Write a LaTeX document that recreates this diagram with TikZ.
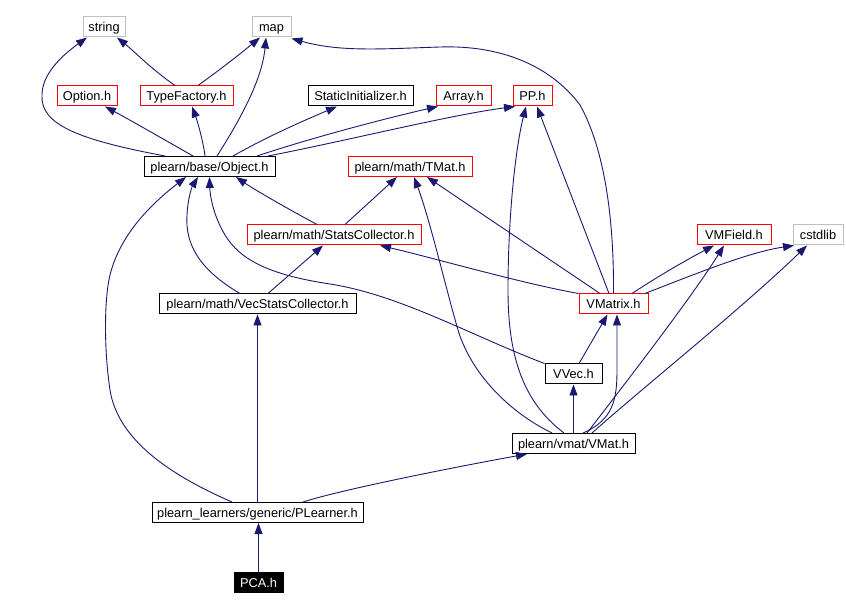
\documentclass[tikz,border=0pt]{standalone}
\usepackage{fontspec}
\setmainfont{Liberation Sans}
\usetikzlibrary{arrows.meta}
\definecolor{edgeblue}{HTML}{191970}
\definecolor{boxgray}{HTML}{BFBFBF}
\tikzset{
  box/.style={draw, line width=1pt, inner sep=0pt, minimum height=20pt, text height=11pt, text depth=1pt, font=\fontsize{12.8}{14}\selectfont, text=black},
  redbox/.style={box, draw=red},
  blackbox/.style={box, draw=black},
  graybox/.style={box, draw=boxgray},
  focusbox/.style={box, draw=black, fill=black, text=white},
  edge/.style={draw=edgeblue, line width=0.9pt, -{Triangle[length=11pt,width=8pt]}, fill=none},
}
\begin{document}
\begin{tikzpicture}[x=1pt,y=-1pt]
\useasboundingbox[fill=white] (0,0) rectangle (846,609);
% nodes
\node[graybox, minimum width=42pt] (string) at (104,27) {string};
\node[graybox, minimum width=39pt] (map) at (271.5,27) {map};
\node[redbox, minimum width=60pt] (option) at (87,96) {Option.h};
\node[redbox, minimum width=93pt] (tf) at (186.5,96) {TypeFactory.h};
\node[blackbox, minimum width=105pt] (si) at (360.5,96) {StaticInitializer.h};
\node[redbox, minimum width=55pt] (array) at (463.5,96) {Array.h};
\node[redbox, minimum width=39pt] (pp) at (532.5,96) {PP.h};
\node[blackbox, minimum width=131pt] (obj) at (209.5,166.5) {plearn/base/Object.h};
\node[redbox, minimum width=124pt] (tmat) at (410,166.5) {plearn/math/TMat.h};
\node[redbox, minimum width=174pt] (stats) at (334,235) {plearn/math/StatsCollector.h};
\node[blackbox, minimum width=197pt] (vecstats) at (257.5,304) {plearn/math/VecStatsCollector.h};
\node[redbox, minimum width=74pt] (vmfield) at (734,235) {VMField.h};
\node[graybox, minimum width=50pt] (cstdlib) at (818,235) {cstdlib};
\node[redbox, minimum width=69pt] (vmatrix) at (613.5,304) {VMatrix.h};
\node[blackbox, minimum width=57pt] (vvec) at (573.5,374) {VVec.h};
\node[blackbox, minimum width=123pt] (vmat) at (573.5,443.5) {plearn/vmat/VMat.h};
\node[blackbox, minimum width=211pt] (plearner) at (257.5,512.5) {plearn\_learners/generic/PLearner.h};
\node[focusbox, minimum width=49pt] (pca) at (258.5,582.5) {PCA.h};
% edges
\draw[edge] ([xshift=-44.5pt]obj.north) .. controls (80,140) and (40,125) .. (42,95) .. controls (42,75) and (60,57) .. ([xshift=-17pt]string.south);
\draw[edge] ([xshift=-11.5pt]tf.north) .. controls (150,68) and (135,52) .. ([xshift=13pt]string.south);
\draw[edge] ([xshift=11.5pt]tf.north) .. controls (225,66) and (245,50) .. ([xshift=-11.5pt]map.south);
\draw[edge] ([xshift=7.5pt]obj.north) .. controls (240,120) and (262,80) .. ([xshift=-5.5pt]map.south);
\draw[edge] ([xshift=-16.5pt]obj.north) .. controls (165,140) and (130,120) .. ([xshift=18pt]option.south);
\draw[edge] ([xshift=-4.5pt]obj.north) .. controls (203,140) and (197,120) .. ([xshift=5.5pt]tf.south);
\draw[edge] ([xshift=23.5pt]obj.north) .. controls (270,135) and (310,118) .. ([xshift=-23.5pt]si.south);
\draw[edge] ([xshift=47.5pt]obj.north) .. controls (320,135) and (400,115) .. ([xshift=-25.5pt]array.south);
\draw[edge] ([xshift=58.5pt]obj.north) .. controls (350,140) and (450,115) .. ([xshift=-17.5pt]pp.south);
\draw[edge] (vmatrix.north) .. controls (614,220) and (605,150) .. (580,105) .. controls (550,65) and (500,45) .. (440,47) .. controls (380,49) and (340,52) .. ([yshift=-1pt]map.south east);
\draw[edge] ([xshift=-17pt]stats.north) .. controls (290,210) and (255,190) .. ([xshift=26.5pt]obj.south);
\draw[edge] ([xshift=11pt]stats.north) -- ([xshift=-13pt]tmat.south);
\draw[edge] ([xshift=-17.5pt]vecstats.north) .. controls (200,270) and (185,245) .. (187,215) .. controls (188,195) and (193,185) .. ([xshift=-11.5pt]obj.south);
\draw[edge] ([xshift=10.5pt]vecstats.north) -- ([xshift=-11pt]stats.south);
\draw[edge] (vvec.north west) .. controls (470,335) and (400,295) .. (330,284) .. controls (270,275) and (240,260) .. (225,235) .. controls (213,215) and (210,195) .. (obj.south);
\draw[edge] ([xshift=-25.5pt]plearner.north) .. controls (170,475) and (118,440) .. (110,390) .. controls (104,350) and (104,300) .. (110,275) .. controls (120,235) and (150,205) .. ([xshift=-23.5pt]obj.south);
\draw[edge] (plearner.north) -- (vecstats.south);
\draw[edge] ([xshift=45.5pt]plearner.north) .. controls (340,490) and (450,468) .. ([xshift=-46.5pt]vmat.south);
\draw[edge] (pca.north) -- (pca.north |- plearner.south);
\draw[edge] (vmatrix.north west) .. controls (520,283) and (430,257) .. ([xshift=46pt]stats.south);
\draw[edge] ([xshift=-13.5pt]vmatrix.north) -- ([xshift=17pt]tmat.south);
\draw[edge] ([xshift=-4.5pt]vmatrix.north) -- ([xshift=4.5pt]pp.south);
\draw[edge] ([xshift=18.5pt]vmatrix.north) .. controls (660,275) and (690,258) .. ([xshift=-20pt]vmfield.south);
\draw[edge] ([xshift=31.5pt]vmatrix.north) .. controls (700,272) and (750,252) .. ([xshift=-24pt]cstdlib.south);
\draw[edge] ([xshift=-21.5pt]vmat.north) .. controls (505,410) and (470,370) .. (458,330) .. controls (445,285) and (430,220) .. ([xshift=4pt]tmat.south);
\draw[edge] ([xshift=-9.5pt]vmat.north) .. controls (520,400) and (508,350) .. (508,290) .. controls (508,220) and (515,150) .. ([xshift=-6.5pt]pp.south);
\draw[edge] (vmat.north) -- (vvec.south);
\draw[edge] ([xshift=9.5pt]vmat.north) .. controls (613,420) and (617,400) .. (617,370) -- ([xshift=3.5pt]vmatrix.south);
\draw[edge] ([xshift=13.5pt]vmat.north) .. controls (620,390) and (690,300) .. ([xshift=-10pt]vmfield.south);
\draw[edge] ([xshift=18.5pt]vmat.north) .. controls (640,390) and (740,310) .. ([xshift=-11pt]cstdlib.south);
\draw[edge] ([xshift=5.5pt]vvec.north) -- ([xshift=-6pt]vmatrix.south);
\end{tikzpicture}
\end{document}
